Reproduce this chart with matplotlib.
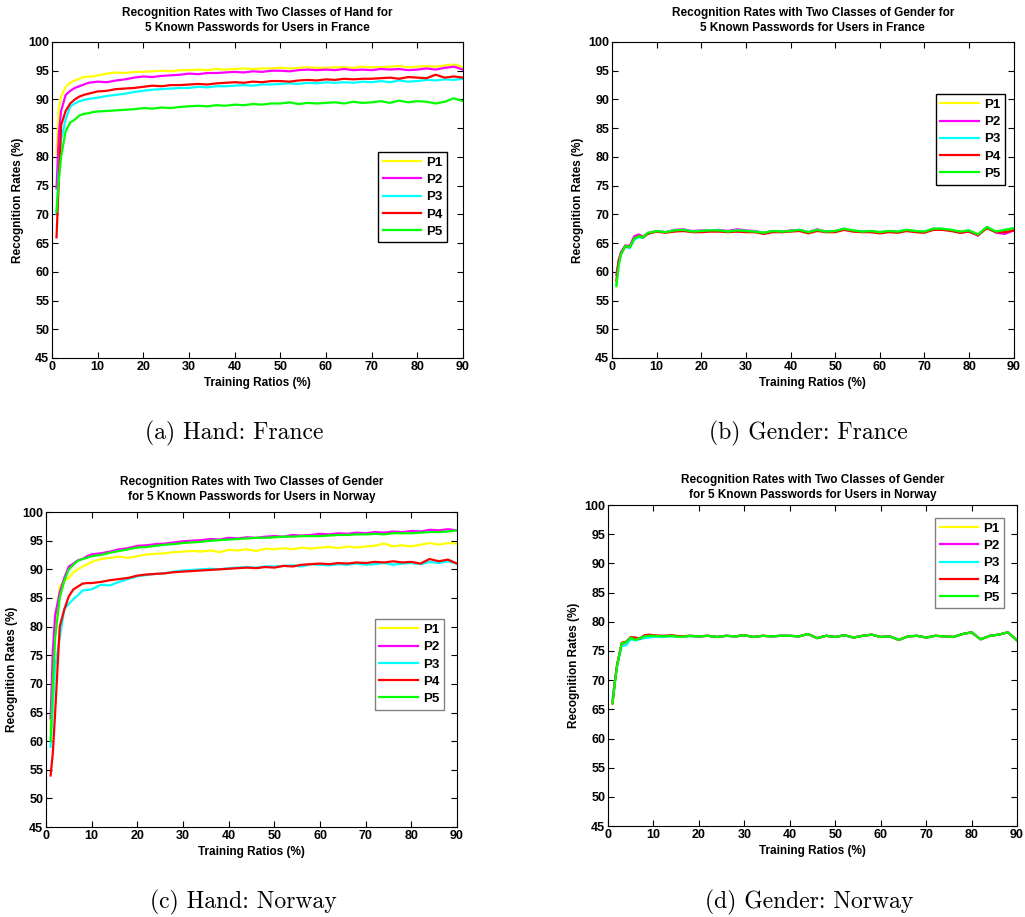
import matplotlib
matplotlib.use("Agg")
import matplotlib.pyplot as plt

plt.rcParams['font.family'] = ['Liberation Sans', 'DejaVu Sans']

# training ratios (%)
X = [1, 1.5, 2, 3, 4, 5, 6, 7, 8, 9, 10,
     12, 14, 16, 18, 20, 22, 24, 26, 28, 30, 32, 34, 36, 38, 40, 42, 44, 46, 48,
     50, 52, 54, 56, 58, 60, 62, 64, 66, 68, 70, 72, 74, 76, 78, 80, 82, 84, 86, 88, 90]

labels = ['P1', 'P2', 'P3', 'P4', 'P5']
colors = ['#ffff00', '#ff00ff', '#00ffff', '#ff0000', '#00ff00']

## (a) Hand: France ##
a_p1 = [80.5, 88.5, 90.5, 92.2, 92.9, 93.3, 93.6, 93.9, 94.0, 94.0, 94.2,
        94.5, 94.7, 94.6, 94.8, 94.8, 94.9, 95.0, 94.9, 95.1, 95.1, 95.2, 95.1, 95.3, 95.2, 95.3, 95.4, 95.3, 95.4, 95.4,
        95.5, 95.4, 95.5, 95.6, 95.5, 95.5, 95.6, 95.6, 95.5, 95.7, 95.6, 95.6, 95.7, 95.8, 95.6, 95.7, 95.8, 95.7, 95.9, 96.1, 95.6]
a_p2 = [74.5, 84.0, 88.0, 90.8, 91.5, 92.0, 92.3, 92.6, 92.9, 93.0, 93.1,
        93.0, 93.3, 93.5, 93.8, 94.0, 93.9, 94.1, 94.2, 94.3, 94.5, 94.4, 94.6, 94.6, 94.7, 94.8, 94.7, 94.9, 94.8, 95.0,
        95.0, 94.9, 95.1, 95.2, 95.1, 95.2, 95.1, 95.3, 95.1, 95.2, 95.1, 95.3, 95.2, 95.3, 95.1, 95.2, 95.4, 95.2, 95.5, 95.7, 95.2]
a_p3 = [70.0, 78.0, 83.0, 86.5, 88.8, 89.3, 89.7, 89.9, 90.1, 90.2, 90.3,
        90.6, 90.8, 91.0, 91.3, 91.5, 91.7, 91.8, 91.9, 92.0, 92.0, 92.2, 92.1, 92.3, 92.3, 92.4, 92.5, 92.4, 92.6, 92.6,
        92.7, 92.8, 92.7, 92.9, 92.8, 93.0, 92.9, 93.0, 92.9, 93.1, 93.0, 93.2, 93.0, 93.3, 93.1, 93.2, 93.4, 93.3, 93.5, 93.4, 93.6]
a_p4 = [66.0, 76.0, 85.5, 88.0, 89.3, 90.0, 90.5, 90.8, 91.0, 91.2, 91.4,
        91.5, 91.8, 91.9, 92.0, 92.2, 92.4, 92.3, 92.5, 92.5, 92.6, 92.7, 92.6, 92.8, 92.9, 93.0, 92.9, 93.1, 93.0, 93.2,
        93.2, 93.1, 93.3, 93.4, 93.3, 93.5, 93.4, 93.6, 93.5, 93.6, 93.6, 93.7, 93.8, 93.6, 93.9, 93.8, 93.7, 94.3, 93.8, 94.0, 93.8]
a_p5 = [70.5, 76.0, 80.0, 84.5, 86.0, 86.5, 87.2, 87.5, 87.6, 87.8, 87.9,
        88.0, 88.1, 88.2, 88.3, 88.5, 88.4, 88.6, 88.5, 88.7, 88.8, 88.9, 88.8, 89.0, 88.9, 89.1, 89.0, 89.2, 89.1, 89.3,
        89.3, 89.5, 89.2, 89.4, 89.3, 89.4, 89.5, 89.3, 89.6, 89.4, 89.5, 89.7, 89.4, 89.8, 89.5, 89.7, 89.6, 89.3, 89.6, 90.2, 89.7]

## (b) Gender: France ##
b_p1 = [58.0, 61.5, 63.2, 64.3, 64.4, 65.7, 66.1, 66.0, 66.7, 66.8, 67.0,
        66.9, 67.1, 67.2, 67.0, 67.1, 67.1, 67.2, 67.0, 67.1, 67.1, 67.0, 66.8, 67.0, 67.0, 67.1, 67.2, 66.9, 67.2, 67.0,
        67.0, 67.4, 67.1, 67.0, 67.0, 66.9, 67.0, 67.0, 67.2, 67.1, 66.9, 67.4, 67.4, 67.2, 67.0, 67.1, 66.5, 67.6, 67.0, 67.1, 67.4]
b_p2 = [59.5, 62.0, 63.4, 64.6, 64.5, 66.2, 66.5, 66.1, 66.7, 66.9, 67.1,
        66.9, 67.3, 67.4, 67.1, 67.2, 67.2, 67.3, 67.1, 67.4, 67.2, 67.1, 66.8, 67.1, 67.0, 67.2, 67.3, 66.9, 67.4, 67.0,
        67.1, 67.5, 67.1, 67.0, 67.0, 66.8, 67.0, 66.9, 67.3, 67.0, 66.9, 67.5, 67.4, 67.2, 66.8, 67.0, 66.3, 67.8, 66.8, 66.6, 67.2]
b_p3 = [57.8, 61.2, 63.0, 64.4, 64.1, 65.6, 66.0, 65.9, 66.6, 66.8, 67.1,
        66.9, 67.2, 67.3, 67.0, 67.1, 67.2, 67.2, 67.0, 67.2, 67.1, 67.0, 66.8, 67.1, 67.0, 67.1, 67.3, 66.9, 67.3, 67.0,
        67.1, 67.5, 67.2, 67.0, 67.1, 66.9, 67.1, 67.0, 67.3, 67.1, 67.0, 67.5, 67.5, 67.3, 67.0, 67.2, 66.5, 67.8, 67.0, 67.3, 67.6]
b_p4 = [58.5, 61.8, 63.1, 64.5, 64.3, 65.8, 66.3, 66.0, 66.6, 66.8, 67.0,
        66.8, 67.0, 67.1, 66.9, 66.9, 67.0, 67.0, 66.9, 67.0, 66.9, 66.9, 66.6, 66.9, 66.9, 67.0, 67.1, 66.7, 67.1, 66.9,
        66.9, 67.3, 67.0, 66.9, 66.9, 66.7, 66.9, 66.8, 67.1, 66.9, 66.8, 67.3, 67.3, 67.1, 66.8, 67.0, 66.4, 67.6, 66.9, 66.9, 67.2]
b_p5 = [57.5, 61.0, 63.0, 64.5, 64.3, 65.8, 66.2, 66.0, 66.8, 66.9, 67.1,
        66.9, 67.2, 67.3, 67.0, 67.1, 67.2, 67.2, 67.0, 67.2, 67.1, 67.0, 66.8, 67.1, 67.0, 67.1, 67.3, 66.9, 67.3, 67.0,
        67.1, 67.5, 67.2, 67.0, 67.1, 66.9, 67.1, 67.0, 67.3, 67.1, 67.0, 67.5, 67.5, 67.3, 67.0, 67.2, 66.5, 67.8, 67.0, 67.3, 67.6]

## (c) Hand: Norway ##
c_p1 = [62.0, 72.0, 80.0, 87.0, 88.0, 88.5, 89.5, 90.0, 90.5, 90.9, 91.3,
        91.8, 92.0, 92.2, 92.0, 92.3, 92.6, 92.7, 92.8, 93.0, 93.1, 93.2, 93.1, 93.3, 93.0, 93.4, 93.3, 93.5, 93.2, 93.6,
        93.5, 93.7, 93.5, 93.8, 93.6, 93.8, 93.9, 93.7, 94.0, 93.8, 94.0, 94.1, 94.5, 94.0, 94.2, 94.0, 94.3, 94.6, 94.3, 94.6, 94.5]
c_p2 = [64.0, 76.0, 82.0, 86.0, 88.5, 90.5, 91.0, 91.6, 91.8, 92.3, 92.6,
        92.8, 93.1, 93.5, 93.7, 94.1, 94.2, 94.4, 94.5, 94.7, 94.9, 95.0, 95.1, 95.3, 95.2, 95.5, 95.4, 95.6, 95.5, 95.7,
        95.8, 95.7, 96.0, 95.9, 96.0, 96.2, 96.1, 96.3, 96.2, 96.4, 96.3, 96.5, 96.4, 96.6, 96.5, 96.7, 96.6, 96.9, 96.8, 97.0, 96.8]
c_p3 = [59.0, 66.0, 73.0, 78.0, 83.0, 84.0, 84.8, 85.5, 86.3, 86.4, 86.5,
        87.3, 87.2, 87.8, 88.3, 88.8, 89.0, 89.2, 89.3, 89.6, 89.8, 89.9, 90.0, 90.1, 90.0, 90.2, 90.3, 90.4, 90.3, 90.5,
        90.5, 90.6, 90.7, 90.5, 90.9, 90.8, 90.7, 90.9, 90.8, 91.0, 90.8, 90.9, 91.1, 90.8, 91.0, 91.1, 90.9, 91.3, 91.1, 91.4, 91.0]
c_p4 = [54.0, 58.0, 65.0, 80.0, 83.0, 85.3, 86.5, 87.0, 87.5, 87.6, 87.6,
        87.8, 88.1, 88.3, 88.5, 88.9, 89.1, 89.2, 89.3, 89.5, 89.6, 89.7, 89.8, 89.9, 90.0, 90.1, 90.2, 90.3, 90.2, 90.4,
        90.3, 90.6, 90.5, 90.8, 90.9, 91.0, 90.9, 91.1, 91.0, 91.2, 91.1, 91.3, 91.2, 91.4, 91.2, 91.3, 91.0, 91.8, 91.4, 91.7, 91.0]
c_p5 = [60.0, 70.0, 78.0, 85.0, 88.0, 90.0, 90.8, 91.5, 91.8, 92.0, 92.3,
        92.5, 92.9, 93.2, 93.5, 93.8, 93.9, 94.1, 94.3, 94.4, 94.6, 94.7, 94.8, 95.0, 95.1, 95.2, 95.3, 95.4, 95.5, 95.5,
        95.6, 95.7, 95.7, 95.8, 95.8, 95.8, 95.9, 96.0, 96.0, 96.1, 96.1, 96.2, 96.1, 96.3, 96.3, 96.3, 96.4, 96.5, 96.5, 96.6, 96.8]

## (d) Gender: Norway ##
d_p1 = [66.2, 69.8, 72.7, 76.0, 76.3, 77.1, 76.9, 77.1, 77.3, 77.4, 77.5,
        77.4, 77.5, 77.4, 77.5, 77.5, 77.6, 77.4, 77.6, 77.5, 77.7, 77.4, 77.6, 77.5, 77.6, 77.6, 77.5, 77.9, 77.2, 77.6,
        77.4, 77.7, 77.3, 77.6, 77.8, 77.4, 77.5, 76.9, 77.5, 77.6, 77.3, 77.6, 77.5, 77.4, 77.9, 78.2, 77.0, 77.6, 77.8, 78.2, 76.8]
d_p2 = [66.4, 69.6, 72.6, 76.2, 76.4, 77.2, 77.0, 77.2, 77.5, 77.6, 77.6,
        77.5, 77.6, 77.4, 77.6, 77.5, 77.6, 77.4, 77.6, 77.5, 77.7, 77.4, 77.6, 77.5, 77.6, 77.6, 77.5, 77.9, 77.2, 77.6,
        77.4, 77.7, 77.3, 77.6, 77.8, 77.4, 77.5, 76.9, 77.5, 77.6, 77.3, 77.6, 77.5, 77.4, 77.9, 78.2, 77.0, 77.6, 77.8, 78.2, 76.8]
d_p3 = [67.0, 69.9, 72.4, 75.8, 76.0, 77.0, 76.8, 77.0, 77.2, 77.3, 77.4,
        77.4, 77.5, 77.4, 77.5, 77.5, 77.6, 77.4, 77.6, 77.5, 77.7, 77.4, 77.6, 77.5, 77.6, 77.6, 77.5, 77.9, 77.2, 77.6,
        77.4, 77.7, 77.3, 77.6, 77.8, 77.4, 77.5, 76.9, 77.5, 77.6, 77.3, 77.6, 77.5, 77.4, 77.9, 78.2, 77.0, 77.6, 77.8, 78.2, 76.8]
d_p4 = [66.0, 69.7, 72.6, 76.4, 76.6, 77.4, 77.3, 77.1, 77.7, 77.8, 77.7,
        77.6, 77.7, 77.5, 77.6, 77.5, 77.6, 77.4, 77.6, 77.5, 77.7, 77.4, 77.6, 77.5, 77.6, 77.6, 77.5, 77.9, 77.2, 77.6,
        77.4, 77.7, 77.3, 77.6, 77.8, 77.4, 77.5, 76.9, 77.5, 77.6, 77.3, 77.6, 77.5, 77.4, 77.9, 78.2, 77.0, 77.6, 77.8, 78.2, 76.8]
d_p5 = [66.0, 69.5, 72.5, 76.3, 76.5, 77.3, 76.9, 77.2, 77.5, 77.6, 77.6,
        77.5, 77.6, 77.4, 77.6, 77.5, 77.6, 77.4, 77.6, 77.5, 77.7, 77.4, 77.6, 77.5, 77.6, 77.6, 77.5, 77.9, 77.2, 77.6,
        77.4, 77.7, 77.3, 77.6, 77.8, 77.4, 77.5, 76.9, 77.5, 77.6, 77.3, 77.6, 77.5, 77.4, 77.9, 78.2, 77.0, 77.6, 77.8, 78.2, 76.8]

titles = ['Recognition Rates with Two Classes of Hand for\n5 Known Passwords for Users in France',
          'Recognition Rates with Two Classes of Gender for\n5 Known Passwords for Users in France',
          'Recognition Rates with Two Classes of Gender\nfor 5 Known Passwords for Users in Norway',
          'Recognition Rates with Two Classes of Gender\nfor 5 Known Passwords for Users in Norway']
captions = ['(a) Hand: France', '(b) Gender: France', '(c) Hand: Norway', '(d) Gender: Norway']
series = [[a_p1, a_p2, a_p3, a_p4, a_p5],
          [b_p1, b_p2, b_p3, b_p4, b_p5],
          [c_p1, c_p2, c_p3, c_p4, c_p5],
          [d_p1, d_p2, d_p3, d_p4, d_p5]]

# axes rectangles (figure fractions), legend anchors (axes fractions)
rects = [[0.0507, 0.6096, 0.401, 0.3446],
         [0.597, 0.6096, 0.392, 0.3446],
         [0.0449, 0.0981, 0.401, 0.3435],
         [0.5932, 0.0992, 0.399, 0.350]]
leg_anchor = [(0.793, 0.652), (0.806, 0.835), (0.80, 0.660), (0.80, 0.96)]
leg_edge = ['black', 'black', '#808080', '#808080']
cap_pos = [(0.228, 0.527), (0.789, 0.527), (0.237, 0.016), (0.789, 0.016)]
title_pad = [8, 8, 9, 5]

fig = plt.figure(figsize=(10.25, 9.17), dpi=100)

for i in range(4):
    ax = fig.add_axes(rects[i])
    for ys, lab, col in zip(series[i], labels, colors):
        ax.plot(X, ys, color=col, lw=1.6, label=lab)
    ax.set_xlim(0, 90)
    ax.set_ylim(45, 100)
    ax.set_xticks(range(0, 91, 10))
    ax.set_yticks(range(45, 101, 5))
    ax.tick_params(direction='in', top=True, right=True, length=4, width=0.8,
                   labelsize=9, pad=2)
    for t in ax.get_xticklabels() + ax.get_yticklabels():
        t.set_fontweight('bold')
    ax.set_xlabel('Training Ratios (%)', fontsize=8.5, fontweight='bold', labelpad=3)
    ax.set_ylabel('Recognition Rates (%)', fontsize=8.5, fontweight='bold', labelpad=3)
    ax.set_title(titles[i], fontsize=8.5, fontweight='bold', pad=title_pad[i], linespacing=1.3)
    leg = ax.legend(loc='upper left', bbox_to_anchor=leg_anchor[i], borderaxespad=0,
                    prop={'weight': 'bold', 'size': 9.5}, handlelength=2.9,
                    labelspacing=0.38, handletextpad=0.4, borderpad=0.35,
                    fancybox=False, framealpha=1)
    leg.get_frame().set_edgecolor(leg_edge[i])
    leg.get_frame().set_linewidth(1.0)
    fig.text(cap_pos[i][0], cap_pos[i][1], captions[i], fontsize=17, family='cmr10',
             ha='center', va='center')

fig.savefig('out.png', dpi=100)
